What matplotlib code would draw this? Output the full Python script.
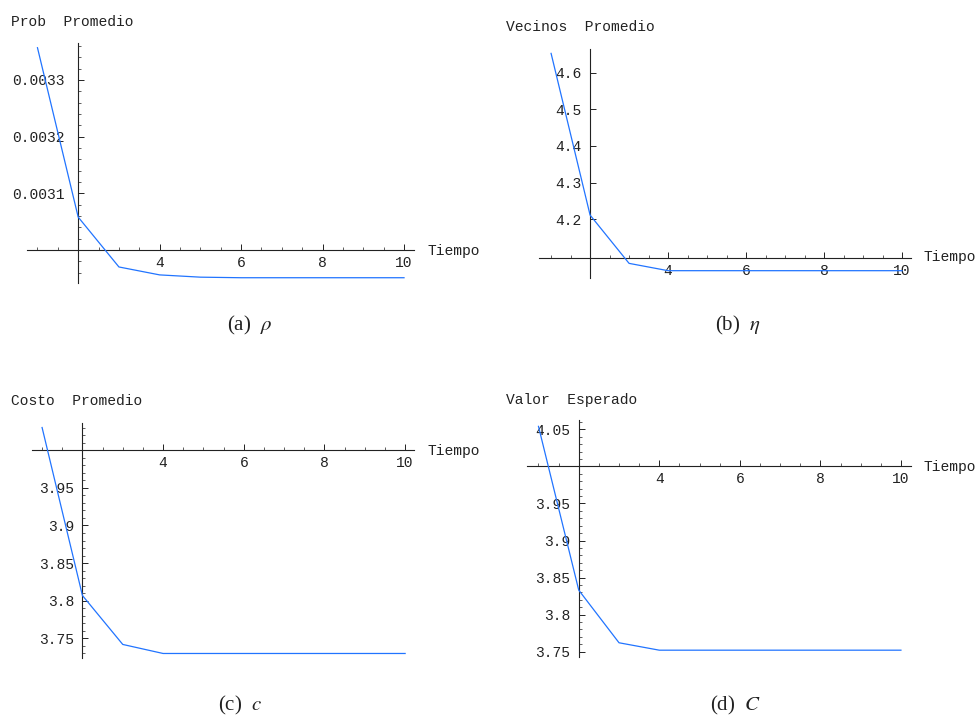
import matplotlib
matplotlib.use('Agg')
import numpy as np
from matplotlib import pyplot as plt
from matplotlib.ticker import FixedLocator

plt.rcParams['mathtext.fontset'] = 'stix'

W, H = 979, 724
MONO = 'Liberation Mono'
SERIF = 'Liberation Serif'
LINE_COLOR = '#2174ff'

tiempo = [1, 2, 3, 4, 5, 6, 7, 8, 9, 10]
x_major = [4, 6, 8, 10]

prob_promedio = [0.003357, 0.003058, 0.002970, 0.002956, 0.002952,
                 0.002951, 0.002951, 0.002951, 0.002951, 0.002951]
vecinos_promedio = [4.653, 4.211, 4.079, 4.059, 4.059,
                    4.059, 4.059, 4.059, 4.059, 4.059]
costo_promedio = [4.030, 3.807, 3.742, 3.730, 3.730,
                  3.730, 3.730, 3.730, 3.730, 3.730]
valor_esperado = [4.054, 3.833, 3.762, 3.752, 3.752,
                  3.752, 3.752, 3.752, 3.752, 3.752]

prob_ticks = [0.0031, 0.0032, 0.0033]
prob_labels = ['0.0031', '0.0032', '0.0033']
vecinos_ticks = [4.2, 4.3, 4.4, 4.5, 4.6]
vecinos_labels = ['4.2', '4.3', '4.4', '4.5', '4.6']
costo_ticks = [3.75, 3.8, 3.85, 3.9, 3.95]
costo_labels = ['3.75', '3.8', '3.85', '3.9', '3.95']
valor_ticks = [3.75, 3.8, 3.85, 3.9, 3.95, 4.05]
valor_labels = ['3.75', '3.8', '3.85', '3.9', '3.95', '4.05']


def fx(px):
    return px / W


def fy(py):
    return 1 - py / H


def panel(fig, box, y, xlim, ylim, y0, yticks, ylabels, yminor, ypad,
          ylabel, ylabel_xy, tiempo_xy, caption, caption_xy):
    left, top, right, bottom = box
    ax = fig.add_axes([fx(left), fy(bottom), (right - left) / W, (bottom - top) / H])
    ax.plot(tiempo, y, color=LINE_COLOR, lw=0.9, zorder=3, clip_on=False)
    ax.set_xlim(*xlim)
    ax.set_ylim(*ylim)
    ax.patch.set_visible(False)

    for s in ('top', 'right'):
        ax.spines[s].set_visible(False)
    ax.spines['left'].set_position(('data', 2))
    ax.spines['bottom'].set_position(('data', y0))
    for s in ('left', 'bottom'):
        ax.spines[s].set_linewidth(0.8)
        ax.spines[s].set_color('#222222')

    ax.xaxis.set_major_locator(FixedLocator(x_major))
    ax.xaxis.set_minor_locator(FixedLocator([v for v in np.arange(1, 10.01, 0.5) if v not in x_major and v != 2]))
    ax.set_xticklabels([str(v) for v in x_major])
    ax.yaxis.set_major_locator(FixedLocator(yticks))
    ax.set_yticklabels(ylabels)
    if yminor is not None:
        ax.yaxis.set_minor_locator(FixedLocator(yminor))

    ax.tick_params(which='major', direction='in', length=4, width=0.7, color='#222222',
                   labelsize=10.5, labelcolor='#222222')
    ax.tick_params(which='minor', direction='in', length=2.5, width=0.6, color='#444444')
    ax.tick_params(axis='x', which='major', pad=4)
    ax.tick_params(axis='y', which='major', pad=ypad)
    for lab in ax.get_xticklabels() + ax.get_yticklabels():
        lab.set_family(MONO)

    fig.text(fx(ylabel_xy[0]), fy(ylabel_xy[1]), ylabel, family=MONO, fontsize=10.5,
             color='#222222', ha='left', va='center')
    fig.text(fx(tiempo_xy[0]), fy(tiempo_xy[1]), 'Tiempo', family=MONO, fontsize=10.5,
             color='#222222', ha='left', va='center')
    fig.text(fx(caption_xy[0]), fy(caption_xy[1]), caption, family=SERIF, fontsize=15,
             color='#222222', ha='center', va='center')
    return ax


fig = plt.figure(figsize=(W / 100, H / 100), dpi=100)

panel(fig, (27, 43, 414, 283), prob_promedio, (0.743, 10.245), (0.0029417, 0.0033653),
      0.0030, prob_ticks, prob_labels,
      [v for v in np.arange(0.00296, 0.003361, 0.00002) if all(abs(v - t) > 1e-7 for t in prob_ticks)],
      10, 'Prob  Promedio', (11, 22), (428, 251), r'(a)  $\rho$', (250, 325))

panel(fig, (539, 49, 911, 278), vecinos_promedio, (0.69, 10.23), (4.039, 4.665),
      4.093, vecinos_ticks, vecinos_labels, None,
      6, 'Vecinos  Promedio', (506, 27), (923, 257), r'(b)  $\eta$', (738, 325))

panel(fig, (32, 423, 414, 658), costo_promedio, (0.75, 10.22), (3.724, 4.036),
      4.0, costo_ticks, costo_labels,
      [v for v in np.arange(3.73, 4.031, 0.01) if all(abs(v - t) > 1e-6 for t in costo_ticks)],
      6, 'Costo  Promedio', (11, 401), (428, 451), r'(c)  $c$', (240, 705))

panel(fig, (527, 420, 911, 657), valor_esperado, (0.715, 10.25), (3.7428, 4.0626),
      4.0, valor_ticks, valor_labels,
      [v for v in np.arange(3.76, 4.061, 0.01) if all(abs(v - t) > 1e-6 for t in valor_ticks) and abs(v - 4.0) > 1e-6],
      6, 'Valor  Esperado', (506, 400), (923, 467), r'(d)  $C$', (736, 705))

fig.savefig('out.png', dpi=100, facecolor='white')
